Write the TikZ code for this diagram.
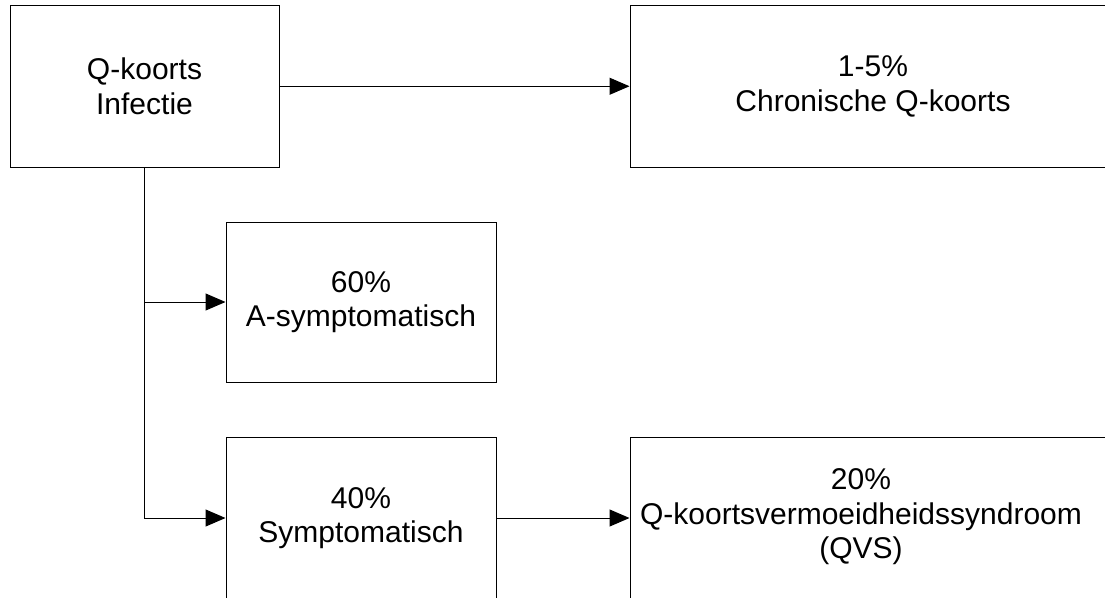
\documentclass[tikz,border=0pt]{standalone}
\usepackage{fontspec}
\setmainfont{Liberation Sans}
\usetikzlibrary{arrows.meta}
\begin{document}
\begin{tikzpicture}[x=1pt,y=-1pt,
  txt/.style={align=center,font=\fontsize{30}{34.5}\selectfont},
  box/.style={draw=black,line width=1pt,inner sep=0pt,txt},
  arr/.style={draw=black,line width=1pt,-{Triangle[length=20pt,width=17pt]}}]
\useasboundingbox (0,0) rectangle (1105,597);
\clip (0,0) rectangle (1105,597);
\node[box,minimum width=269pt,minimum height=161.5pt] (b1) at (144.5,86.25) {Q-koorts\\Infectie};
\node[box,minimum width=486pt,minimum height=161.5pt] (b2) at (873,86.25) {1-5\%\\Chronische Q-koorts};
\node[box,minimum width=270pt,minimum height=160pt] (b3) at (361,302) {60\%\\A-symptomatisch};
\node[box,minimum width=270pt,minimum height=162pt] (b4) at (361,518) {40\%\\Symptomatisch};
\node[box,minimum width=486pt,minimum height=162pt,
  label={[txt,name=b5t,xshift=-12pt,yshift=1pt]center:20\%\\Q-koortsvermoeidheidssyndroom\\(QVS)}] (b5) at (873,518) {};
\draw[arr] (b1.east) -- (b2.west);
\draw[arr] (b1.south) |- (b3.west);
\draw[arr] (b1.south) |- (b4.west);
\draw[arr] (b4.east) -- (b5.west);
\end{tikzpicture}
\end{document}
